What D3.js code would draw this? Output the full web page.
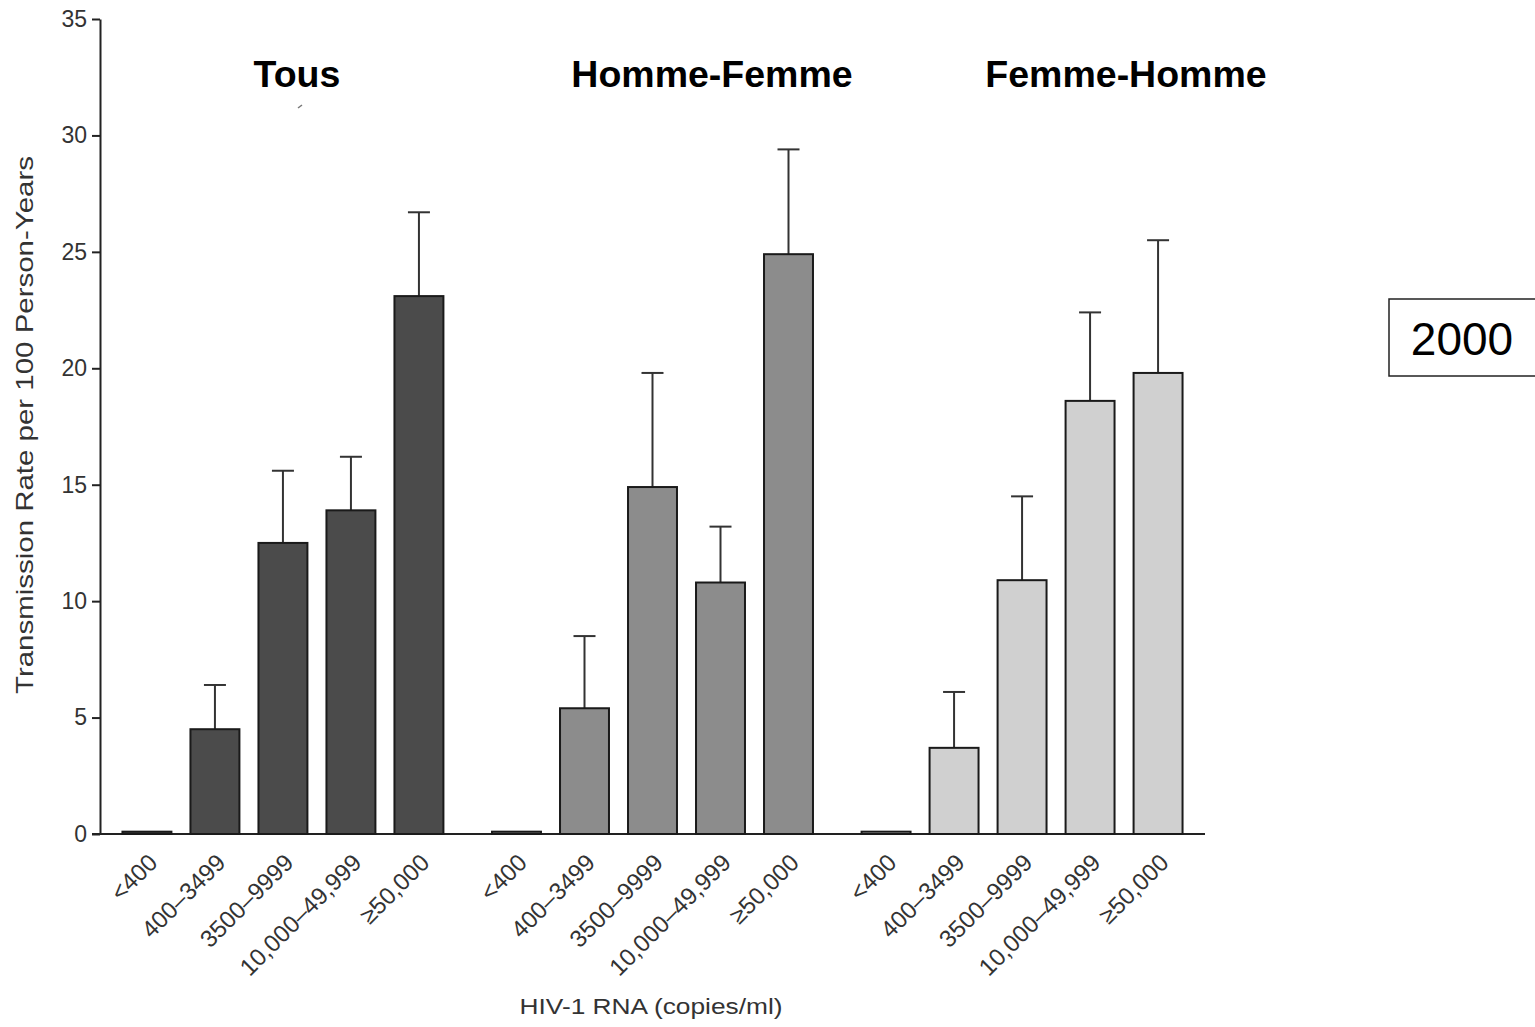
<!DOCTYPE html>
<html>
<head>
<meta charset="utf-8">
<script src="https://cdn.jsdelivr.net/npm/d3@7"></script>
<style>
  html, body { margin: 0; padding: 0; background: #fff; }
  svg { display: block; font-family: "Liberation Sans", Arial, Helvetica, sans-serif; }
</style>
</head>
<body>
<script>
// Transmission rate per 100 person-years by viral load, three groups
const groups = ["Tous", "Homme-Femme", "Femme-Homme"];
const categories = ["<400", "400–3499", "3500–9999", "10,000–49,999", "≥50,000"];

const rateTous        = [0.1, 4.5, 12.5, 13.9, 23.1];
const upperTous       = [null, 6.4, 15.6, 16.2, 26.7];
const rateHommeFemme  = [0.1, 5.4, 14.9, 10.8, 24.9];
const upperHommeFemme = [null, 8.5, 19.8, 13.2, 29.4];
const rateFemmeHomme  = [0.1, 3.7, 10.9, 18.6, 19.8];
const upperFemmeHomme = [null, 6.1, 14.5, 22.4, 25.5];

const yTicks = [0, 5, 10, 15, 20, 25, 30, 35];
const yearLabel = "2000";

const rates = [rateTous, rateHommeFemme, rateFemmeHomme];
const uppers = [upperTous, upperHommeFemme, upperFemmeHomme];
const fills = ["#4b4b4b", "#8c8c8c", "#d0d0d0"];
const titleX = [297, 712, 1126];

const W = 1535, H = 1027;
const svg = d3.select("body").append("svg").attr("width", W).attr("height", H);

const y = d3.scaleLinear().domain([0, 35]).range([834, 19]);
const x0 = d3.scaleBand().domain(groups).range([100, 1205])
  .paddingInner(0.08).paddingOuter(0.035);
const x1 = d3.scaleBand().domain(categories).range([0, x0.bandwidth()])
  .paddingInner(0.28).paddingOuter(0.14);

// Y axis
const yAxis = svg.append("g")
  .attr("transform", "translate(100,0)")
  .call(d3.axisLeft(y).tickValues(yTicks).tickSize(8).tickPadding(5).tickSizeOuter(0));
yAxis.select(".domain").attr("stroke", "#222").attr("stroke-width", 2);
yAxis.selectAll(".tick line").attr("stroke", "#222").attr("stroke-width", 2);
yAxis.selectAll(".tick text")
  .attr("font-size", 23).attr("fill", "#333")
  .attr("font-family", "'Liberation Sans', Arial, sans-serif");

// X baseline
svg.append("line")
  .attr("x1", 92).attr("x2", 1205)
  .attr("y1", y(0)).attr("y2", y(0))
  .attr("stroke", "#222").attr("stroke-width", 2);

// Bars, error bars and category labels per group
groups.forEach((g, gi) => {
  const gx = x0(g);
  const layer = svg.append("g").attr("transform", `translate(${gx},0)`);
  const data = categories.map((c, i) => ({ c, v: rates[gi][i], u: uppers[gi][i] }));

  // error bars (drawn first so the bar outline sits on top)
  const eb = layer.selectAll(".err").data(data.filter(d => d.u != null)).join("g");
  eb.append("line")
    .attr("x1", d => x1(d.c) + x1.bandwidth() / 2)
    .attr("x2", d => x1(d.c) + x1.bandwidth() / 2)
    .attr("y1", d => y(d.v)).attr("y2", d => y(d.u))
    .attr("stroke", "#333").attr("stroke-width", 2);
  eb.append("line")
    .attr("x1", d => x1(d.c) + x1.bandwidth() / 2 - 11)
    .attr("x2", d => x1(d.c) + x1.bandwidth() / 2 + 11)
    .attr("y1", d => y(d.u)).attr("y2", d => y(d.u))
    .attr("stroke", "#333").attr("stroke-width", 2);

  layer.selectAll("rect").data(data).join("rect")
    .attr("x", d => x1(d.c))
    .attr("width", x1.bandwidth())
    .attr("y", d => y(d.v))
    .attr("height", d => y(0) - y(d.v))
    .attr("fill", fills[gi])
    .attr("stroke", "#1a1a1a").attr("stroke-width", 2);

  // category labels, slanted
  const xa = layer.append("g")
    .attr("transform", `translate(0,${y(0)})`)
    .call(d3.axisBottom(x1).tickSize(0).tickPadding(0));
  xa.select(".domain").remove();
  xa.selectAll(".tick text")
    .attr("font-size", 24).attr("fill", "#333")
    .attr("font-family", "'Liberation Sans', Arial, sans-serif")
    .attr("text-anchor", "end")
    .attr("dy", 0).attr("y", 0)
    .attr("transform", "translate(12,30) rotate(-45)");

  // group title
  svg.append("text")
    .attr("x", titleX[gi]).attr("y", 87)
    .attr("text-anchor", "middle")
    .attr("font-size", 37.5).attr("font-weight", "bold").attr("fill", "#000")
    .text(g);
});

// small stray mark under the first title
svg.append("line")
  .attr("x1", 298).attr("y1", 108).attr("x2", 302).attr("y2", 105)
  .attr("stroke", "#777").attr("stroke-width", 1.5);

// Axis titles
svg.append("text")
  .attr("transform", "translate(33,425) rotate(-90)")
  .attr("text-anchor", "middle")
  .attr("font-size", 24).attr("fill", "#333")
  .attr("textLength", 538).attr("lengthAdjust", "spacingAndGlyphs")
  .text("Transmission Rate per 100 Person-Years");

svg.append("text")
  .attr("x", 651).attr("y", 1014)
  .attr("text-anchor", "middle")
  .attr("font-size", 22).attr("fill", "#333")
  .attr("textLength", 263).attr("lengthAdjust", "spacingAndGlyphs")
  .text("HIV-1 RNA (copies/ml)");

// Year box
svg.append("rect")
  .attr("x", 1389).attr("y", 299).attr("width", 150).attr("height", 77)
  .attr("fill", "#fff").attr("stroke", "#222").attr("stroke-width", 1.5);
svg.append("text")
  .attr("x", 1462).attr("y", 355)
  .attr("text-anchor", "middle")
  .attr("font-size", 46).attr("fill", "#000")
  .text(yearLabel);
</script>
</body>
</html>
